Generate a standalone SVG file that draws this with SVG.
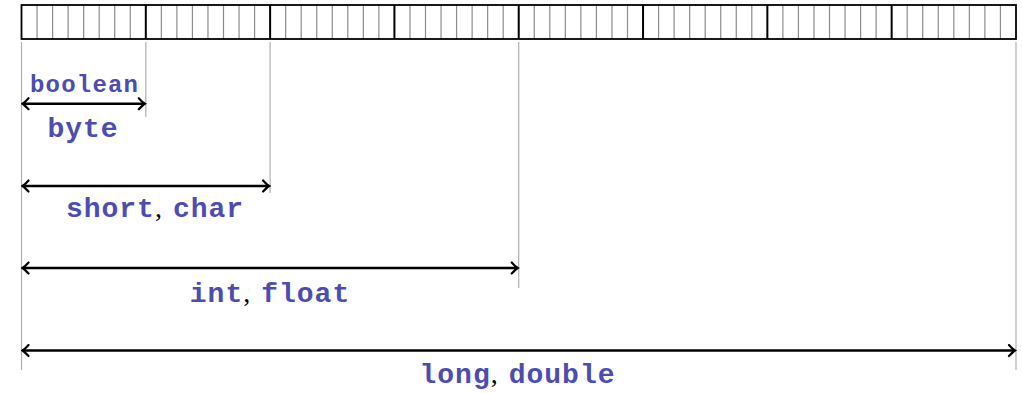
<svg xmlns="http://www.w3.org/2000/svg" width="1022" height="393" viewBox="0 0 1022 393">
<style>
.bit{stroke:#8c8c8c;stroke-width:1.2}
.byte{stroke:#000;stroke-width:2}
.frame{fill:none;stroke:#000;stroke-width:1.8}
.guide{stroke:#b0b0b0;stroke-width:1.2}
.arr{stroke:#000;stroke-width:2.4;fill:none;marker-start:url(#ah);marker-end:url(#ah)}
.lbl{font-family:"Liberation Mono","DejaVu Sans Mono",monospace;font-weight:bold;fill:#4c4cb2}
.big{font-size:28px;letter-spacing:1px}
.small{font-size:24px;letter-spacing:1.2px}
.cm{font-family:"Liberation Serif","DejaVu Serif",serif;font-weight:normal;fill:#000;letter-spacing:0;font-size:28px}
</style>
<defs>
<marker id="ah" viewBox="-8 -7 10 14" markerWidth="10" markerHeight="14" refX="0" refY="0" orient="auto-start-reverse" markerUnits="userSpaceOnUse">
<path d="M-6,-5.5 Q-2,-1.2 0,0 Q-2,1.2 -6,5.5" fill="none" stroke="#000" stroke-width="2.2" stroke-linecap="round"/>
</marker>
</defs>
<g id="memory">
<g id="bits">
<path class="bit" d="M37.04,5V39M52.58,5V39M68.12,5V39M83.65,5V39M99.19,5V39M114.73,5V39M130.27,5V39
M161.35,5V39M176.88,5V39M192.42,5V39M207.96,5V39M223.50,5V39M239.04,5V39M254.58,5V39
M285.65,5V39M301.19,5V39M316.73,5V39M332.27,5V39M347.81,5V39M363.35,5V39M378.88,5V39
M409.96,5V39M425.50,5V39M441.04,5V39M456.58,5V39M472.12,5V39M487.65,5V39M503.19,5V39
M534.27,5V39M549.81,5V39M565.35,5V39M580.88,5V39M596.42,5V39M611.96,5V39M627.50,5V39
M658.58,5V39M674.12,5V39M689.65,5V39M705.19,5V39M720.73,5V39M736.27,5V39M751.81,5V39
M782.88,5V39M798.42,5V39M813.96,5V39M829.50,5V39M845.04,5V39M860.58,5V39M876.12,5V39
M907.19,5V39M922.73,5V39M938.27,5V39M953.81,5V39M969.35,5V39M984.88,5V39M1000.42,5V39"/>
</g>
<path class="byte" d="M145.81,5V39M270.12,5V39M394.42,5V39M518.73,5V39M643.04,5V39M767.35,5V39M891.65,5V39"/>
<rect class="frame" x="21.5" y="5" width="994.5" height="34"/>
</g>
<g id="guides">
<line class="guide" x1="21.5" y1="42" x2="21.5" y2="370"/>
<line class="guide" x1="145.8" y1="42" x2="145.8" y2="117"/>
<line class="guide" x1="270.1" y1="42" x2="270.1" y2="193"/>
<line class="guide" x1="518.7" y1="42" x2="518.7" y2="288"/>
<line class="guide" x1="1016" y1="42" x2="1016" y2="370"/>
</g>
<g id="connectors">
<line class="arr" x1="22.5" y1="103.7" x2="144.8" y2="103.7"/>
<line class="arr" x1="22.5" y1="186" x2="269.1" y2="186"/>
<line class="arr" x1="22.5" y1="268" x2="517.7" y2="268"/>
<line class="arr" x1="22.5" y1="350.5" x2="1015" y2="350.5"/>
</g>
<g id="n-boolean"><text class="lbl small" x="84.6" y="92" text-anchor="middle">boolean</text></g>
<g id="n-byte"><text class="lbl big" x="83" y="137" text-anchor="middle">byte</text></g>
<g id="n-short"><text class="lbl big" x="155" y="216.7" text-anchor="middle">short<tspan class="cm">,</tspan><tspan dx="11">char</tspan></text></g>
<g id="n-int"><text class="lbl big" x="270" y="301.7" text-anchor="middle">int<tspan class="cm">,</tspan><tspan dx="11">float</tspan></text></g>
<g id="n-long"><text class="lbl big" x="517.5" y="383.3" text-anchor="middle">long<tspan class="cm">,</tspan><tspan dx="11">double</tspan></text></g>
</svg>
